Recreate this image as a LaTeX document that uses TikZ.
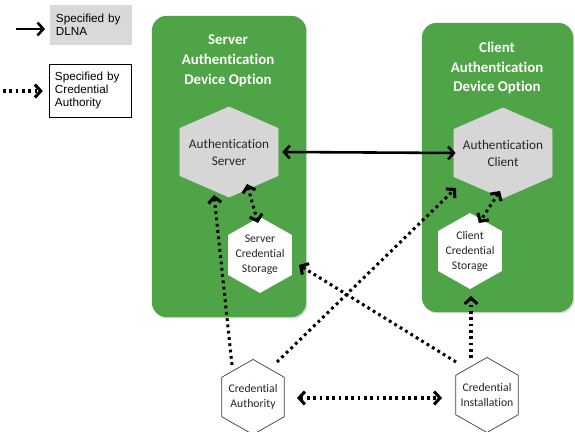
\documentclass[tikz,border=0pt]{standalone}
\usepackage{fontspec}
\setmainfont{Carlito}[Ligatures=NoCommon]
\newfontfamily\legendfont{Liberation Sans}
\usetikzlibrary{arrows.meta,calc,shadows}
\definecolor{devgreen}{RGB}{78,164,70}
\definecolor{hexgray}{RGB}{214,214,214}
\definecolor{legendgray}{RGB}{217,217,217}
\tikzset{
  hexnode/.style 2 args={inner sep=0pt, align=center, text=black!85,
    path picture={
      \path[fill=#1,draw=#2,line width=0.6pt]
        ($(path picture bounding box.north)+(0,-0.4pt)$)
        -- ($(path picture bounding box.north east)!0.24!(path picture bounding box.south east)+(-0.4pt,0)$)
        -- ($(path picture bounding box.north east)!0.76!(path picture bounding box.south east)+(-0.4pt,0)$)
        -- ($(path picture bounding box.south)+(0,0.4pt)$)
        -- ($(path picture bounding box.north west)!0.76!(path picture bounding box.south west)+(0.4pt,0)$)
        -- ($(path picture bounding box.north west)!0.24!(path picture bounding box.south west)+(0.4pt,0)$)
        -- cycle;
    }},
  bighex/.style={hexnode={hexgray}{hexgray}, minimum width=2.97cm, minimum height=2.73cm,
    font=\fontsize{11.3}{14.5}\selectfont},
  smallhex/.style={hexnode={white}{white}, minimum width=1.92cm, minimum height=2.28cm,
    font=\fontsize{10}{12.8}\selectfont},
  outerhex/.style={hexnode={white}{black!75}, minimum width=1.9cm, minimum height=2.28cm,
    font=\fontsize{10}{12.8}\selectfont},
}
\begin{document}
\begin{tikzpicture}[x=0.03cm,y=-0.03cm,
  devbox/.style={rounded corners=12pt, fill=devgreen,
    drop shadow={shadow xshift=1.2pt, shadow yshift=-1.2pt, opacity=0.3}},
  devtitle/.style={text=white, align=center, font=\bfseries\fontsize{12.7}{17}\selectfont},
  legbox/.style={inner xsep=0.18cm, inner ysep=0pt, text width=2.1cm, align=left,
    font=\legendfont\fontsize{10}{11.5}\selectfont},
  dlnaarrow/.style={line width=2.2pt, -{Straight Barb[length=5pt,width=11pt]}},
  caarrow/.style={line width=2.6pt, dash pattern=on 2.4pt off 3pt,
    -{Straight Barb[length=5pt,width=11pt]}},
  cabiarrow/.style={caarrow, {Straight Barb[length=5pt,width=11pt]}-{Straight Barb[length=5pt,width=11pt]}}]
\useasboundingbox (0,0) rectangle (575,432);

% legend
\node[legbox, fill=legendgray, minimum height=1.2cm] (dlna) at (91,25) {Specified by\\DLNA};
\node[legbox, draw=black, line width=0.6pt, minimum height=1.59cm] (credauth) at (90,90.5)
  {Specified by\\Credential\\Authority};
\coordinate (dlnastart) at (16,29);
\coordinate (castart) at (3,91);
\draw[dlnaarrow] (dlnastart) -- ([xshift=-4pt]dlna.west |- dlnastart);
\draw[caarrow] (castart) -- ([xshift=-5pt]credauth.west |- castart);

% device options
\node[devbox, minimum width=4.62cm, minimum height=9.03cm] (srvdev) at (229,166.5) {};
\node[devbox, minimum width=4.53cm, minimum height=8.67cm] (clidev) at (497.5,167.5) {};
\node[devtitle] (srvtitle) at (228,61) {Server\\Authentication\\Device Option};
\node[devtitle] (clititle) at (497,68) {Client\\Authentication\\Device Option};

% hexagons
\node[bighex] (as) at (229,152) {Authentication\\Server};
\node[bighex] (ac) at (503,153) {Authentication\\Client};
\node[smallhex] (scs) at (260,255) {Server\\Credential\\Storage};
\node[smallhex] (ccs) at (470,251) {Client\\Credential\\Storage};
\node[outerhex] (ca) at (253,397) {Credential\\Authority};
\node[outerhex] (ci) at (487,395) {Credential\\Installation};

% connectors
\draw[dlnaarrow, {Straight Barb[length=5pt,width=11pt]}-{Straight Barb[length=5pt,width=11pt]}]
  ([xshift=3pt]as.east) -- ([xshift=2pt]ac.west);
\draw[cabiarrow] ($(as)+(18,32)$) -- ($(scs)+(-2,-32)$);
\draw[cabiarrow] ($(ac)+(-3,38)$) -- ($(ccs)+(9,-28)$);
\draw[cabiarrow] ($(ca)+(44,1)$) -- ($(ci)+(-45,3)$);
\draw[caarrow] ($(ca)+(-21,-32)$) -- ($(as)+(-15,43)$);
\draw[caarrow] ($(ca)+(24,-35)$) -- ($(ac)+(-47,35)$);
\draw[caarrow] ($(ci)+(-31,-33)$) -- ($(scs)+(39,10)$);
\draw[caarrow] ($(ci)+(-16,-37)$) -- ($(ccs)+(1,45)$);
\end{tikzpicture}
\end{document}
